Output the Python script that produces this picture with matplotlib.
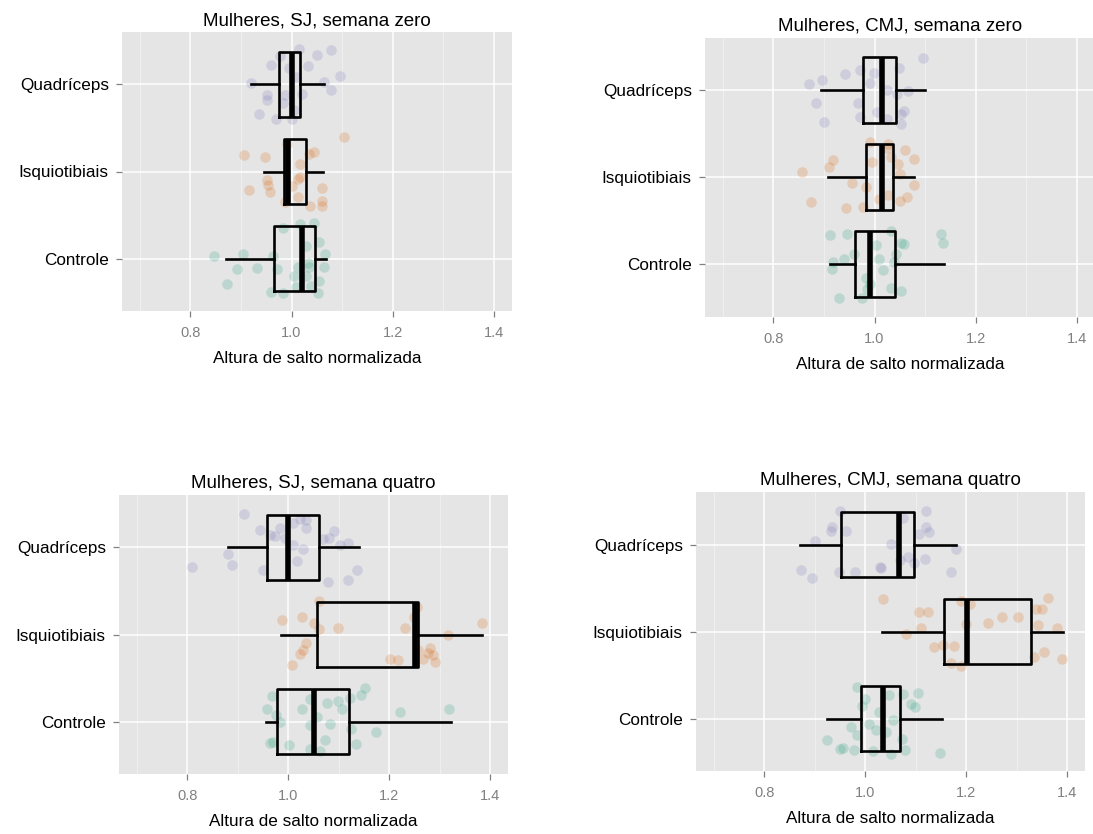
import matplotlib.pyplot as plt

plt.rcParams['font.family'] = ['Liberation Sans', 'DejaVu Sans']

groups = ['Controle', 'Isquiotibiais', 'Quadríceps']
group_colors = ['#1B9E77', '#D95F02', '#7570B3']
x_ticks = [0.8, 1.0, 1.2, 1.4]
x_minor = [0.7, 0.9, 1.1, 1.3]

# SJ, semana zero
sj0_ctrl = [0.847, 0.905, 0.964, 0.892, 0.931, 0.873, 0.960, 0.984, 1.017, 1.045, 1.028, 1.055, 1.066,
            1.065, 1.035, 1.032, 1.012, 1.005, 1.028, 1.055, 1.038, 1.009, 1.053, 0.972, 0.984]
sj0_ctrl_jit = [0.03, 0.05, 0.03, -0.12, -0.11, -0.29, -0.38, 0.35, 0.40, 0.41, 0.15, 0.19, 0.05,
                -0.10, -0.09, -0.05, -0.10, -0.20, -0.20, -0.26, -0.31, -0.32, -0.39, -0.12, -0.39]
sj0_isq = [1.103, 0.906, 0.948, 0.992, 1.044, 1.035, 1.017, 1.017, 1.012, 0.951, 0.954, 0.958, 0.915,
           1.061, 1.000, 1.012, 0.987, 1.037, 1.061, 1.061]
sj0_isq_jit = [0.40, 0.19, 0.17, 0.32, 0.22, 0.20, 0.09, -0.06, -0.09, -0.10, -0.15, -0.23, -0.21,
               -0.19, -0.17, -0.29, -0.35, -0.39, -0.34, -0.39]
sj0_quad = [1.014, 1.050, 1.078, 0.960, 0.978, 1.032, 1.096, 1.065, 1.078, 1.021, 0.951, 0.951, 0.984,
            0.935, 0.969, 1.000, 0.919, 0.995, 0.988, 1.005, 1.009]
sj0_quad_jit = [0.40, 0.34, 0.39, 0.22, 0.32, 0.21, 0.10, 0.03, -0.06, -0.11, -0.12, -0.18, -0.21,
                -0.34, -0.40, -0.40, 0.02, 0.19, -0.12, -0.29, 0.08]
sj0_whislo = [0.871, 0.946, 0.919]
sj0_q1 = [0.966, 0.986, 0.976]
sj0_med = [1.020, 0.993, 1.000]
sj0_q3 = [1.046, 1.028, 1.017]
sj0_whishi = [1.069, 1.063, 1.065]

# CMJ, semana zero
cmj0_ctrl = [0.913, 0.946, 1.032, 1.052, 1.058, 1.131, 1.136, 0.959, 0.939, 0.918, 0.916, 1.002, 1.009,
             1.017, 1.042, 1.038, 0.984, 0.986, 0.929, 0.976, 1.052, 1.032, 0.992]
cmj0_ctrl_jit = [0.34, 0.35, 0.38, 0.24, 0.23, 0.35, 0.24, 0.12, 0.06, 0.03, -0.06, 0.22, 0.06,
                 -0.07, 0.12, 0.02, -0.16, -0.29, -0.39, -0.39, -0.31, -0.27, -0.23]
cmj0_isq = [0.857, 0.875, 0.910, 0.918, 0.943, 0.956, 0.984, 0.977, 0.992, 0.995, 1.026, 1.032, 1.024,
            1.046, 1.050, 1.061, 1.078, 1.078, 1.065, 1.050, 1.026, 1.009]
cmj0_isq_jit = [0.06, -0.29, 0.12, 0.20, -0.36, -0.07, -0.12, -0.34, 0.40, 0.17, 0.38, 0.23, 0.33,
                0.15, 0.04, 0.31, 0.21, -0.09, -0.23, -0.28, -0.21, -0.25]
cmj0_quad = [1.096, 0.871, 0.896, 0.941, 0.972, 0.999, 0.992, 1.048, 1.066, 1.045, 0.885, 0.967, 1.025,
             1.059, 1.052, 1.004, 0.901, 0.972, 1.025, 1.053]
cmj0_quad_jit = [0.37, 0.07, 0.11, 0.18, 0.23, 0.19, 0.08, 0.25, -0.01, -0.05, -0.15, -0.15, 0.00,
                 -0.24, -0.28, -0.25, -0.37, -0.31, -0.33, -0.39]
cmj0_whislo = [0.912, 0.908, 0.894]
cmj0_q1 = [0.962, 0.984, 0.978]
cmj0_med = [0.991, 1.014, 1.014]
cmj0_q3 = [1.040, 1.037, 1.042]
cmj0_whishi = [1.137, 1.079, 1.099]

# SJ, semana quatro
sj4_ctrl = [1.152, 1.145, 1.122, 1.099, 1.076, 1.043, 0.967, 0.957, 0.976, 0.984, 1.028, 1.107, 1.083,
            1.043, 1.056, 1.125, 1.174, 1.222, 1.319, 1.073, 1.002, 0.964, 0.970, 1.043, 1.063, 1.135]
sj4_ctrl_jit = [0.39, 0.31, 0.27, 0.24, 0.22, 0.26, 0.29, 0.15, 0.08, 0.00, 0.15, 0.15, -0.03,
                -0.04, 0.05, -0.08, -0.12, 0.11, 0.15, -0.21, -0.27, -0.25, -0.23, -0.31, -0.34, -0.26]
sj4_isq = [0.987, 1.028, 1.051, 1.061, 1.061, 1.099, 1.036, 1.030, 1.023, 1.007, 1.231, 1.254, 1.248,
           1.383, 1.317, 1.281, 1.277, 1.287, 1.201, 1.218, 1.267, 1.290, 1.257]
sj4_isq_jit = [0.17, 0.20, 0.13, 0.38, 0.06, 0.08, -0.10, -0.18, -0.22, -0.35, 0.07, 0.32, 0.20,
               0.13, -0.01, -0.15, -0.21, -0.23, -0.28, -0.29, -0.28, -0.31, -0.18]
sj4_quad = [0.912, 0.944, 0.964, 0.974, 0.984, 1.009, 1.023, 1.036, 1.036, 1.081, 1.069, 1.090, 1.102,
            1.119, 1.030, 1.010, 0.881, 0.888, 0.809, 0.951, 1.017, 1.079, 1.119, 1.137, 0.993]
sj4_quad_jit = [0.38, 0.20, 0.14, 0.13, 0.22, 0.28, 0.32, 0.31, 0.22, 0.11, 0.09, 0.19, 0.03,
                0.05, -0.02, 0.03, -0.08, -0.20, -0.23, -0.26, -0.16, -0.40, -0.37, -0.26, 0.11]
sj4_whislo = [0.955, 0.985, 0.880]
sj4_q1 = [0.977, 1.056, 0.958]
sj4_med = [1.050, 1.251, 1.000]
sj4_q3 = [1.121, 1.257, 1.061]
sj4_whishi = [1.322, 1.384, 1.140]

# CMJ, semana quatro
cmj4_ctrl = [0.983, 1.000, 0.993, 1.048, 1.074, 1.104, 1.091, 1.099, 1.027, 1.054, 1.008, 1.021, 0.972,
             0.983, 0.925, 0.950, 0.956, 0.978, 1.015, 1.051, 1.078, 1.073, 1.148, 1.041]
cmj4_ctrl_jit = [0.36, 0.23, 0.15, 0.27, 0.28, 0.29, 0.17, 0.13, 0.08, -0.02, -0.06, -0.13, -0.10,
                 -0.19, -0.24, -0.35, -0.34, -0.36, -0.37, -0.41, -0.36, -0.23, -0.39, -0.15]
cmj4_isq = [1.036, 1.107, 1.124, 1.111, 1.080, 1.137, 1.154, 1.175, 1.190, 1.200, 1.243, 1.270, 1.303,
            1.338, 1.349, 1.361, 1.342, 1.379, 1.389, 1.354, 1.334, 1.190, 1.170, 1.207]
cmj4_isq_jit = [0.37, 0.22, 0.22, 0.04, -0.03, -0.18, -0.15, -0.16, 0.35, 0.09, 0.10, 0.17, 0.17,
                0.26, 0.26, 0.39, 0.08, 0.04, -0.31, -0.23, -0.29, -0.40, -0.36, 0.32]
cmj4_quad = [0.950, 1.121, 0.935, 0.932, 0.962, 0.901, 1.074, 1.121, 1.127, 1.107, 1.051, 1.179, 1.084,
             1.097, 1.119, 1.068, 1.030, 1.031, 0.872, 0.895, 0.948, 0.980, 1.170]
cmj4_quad_jit = [0.39, 0.39, 0.20, 0.16, 0.15, 0.04, 0.30, 0.20, 0.14, 0.12, 0.01, -0.05, -0.14,
                 -0.21, -0.17, -0.18, -0.26, -0.27, -0.29, -0.38, -0.31, -0.32, -0.32]
cmj4_whislo = [0.924, 1.033, 0.870]
cmj4_q1 = [0.991, 1.156, 0.952]
cmj4_med = [1.036, 1.201, 1.066]
cmj4_q3 = [1.069, 1.329, 1.097]
cmj4_whishi = [1.152, 1.391, 1.179]

panels = [
    ('Mulheres, SJ, semana zero',
     [sj0_ctrl, sj0_isq, sj0_quad], [sj0_ctrl_jit, sj0_isq_jit, sj0_quad_jit],
     [sj0_whislo, sj0_q1, sj0_med, sj0_q3, sj0_whishi]),
    ('Mulheres, CMJ, semana zero',
     [cmj0_ctrl, cmj0_isq, cmj0_quad], [cmj0_ctrl_jit, cmj0_isq_jit, cmj0_quad_jit],
     [cmj0_whislo, cmj0_q1, cmj0_med, cmj0_q3, cmj0_whishi]),
    ('Mulheres, SJ, semana quatro',
     [sj4_ctrl, sj4_isq, sj4_quad], [sj4_ctrl_jit, sj4_isq_jit, sj4_quad_jit],
     [sj4_whislo, sj4_q1, sj4_med, sj4_q3, sj4_whishi]),
    ('Mulheres, CMJ, semana quatro',
     [cmj4_ctrl, cmj4_isq, cmj4_quad], [cmj4_ctrl_jit, cmj4_isq_jit, cmj4_quad_jit],
     [cmj4_whislo, cmj4_q1, cmj4_med, cmj4_q3, cmj4_whishi]),
]

# panel rectangles in pixels: left, top, right, bottom
W, H = 1093, 834
boxes_px = [(122, 32, 511.7, 311), (705, 37.5, 1094.6, 316.5),
            (119, 495, 508, 774), (696, 492.3, 1085, 771)]

fig = plt.figure(figsize=(W / 100, H / 100), dpi=100)
line_kw = dict(color='black', linewidth=1.9)

for (title, xs, jits, stats), (l, t, r, b) in zip(panels, boxes_px):
    ax = fig.add_axes([l / W, 1 - b / H, (r - l) / W, (b - t) / H])
    ax.set_facecolor('#E5E5E5')
    for s in ax.spines.values():
        s.set_visible(False)

    for i in range(3):
        ax.scatter(xs[i], [i + 1 + j for j in jits[i]], s=58, color=group_colors[i],
                   alpha=0.2, linewidths=0, zorder=2)

    bstats = []
    for i in range(3):
        bstats.append(dict(whislo=stats[0][i], q1=stats[1][i], med=stats[2][i],
                           q3=stats[3][i], whishi=stats[4][i], fliers=[]))
    ax.bxp(bstats, positions=[1, 2, 3], widths=0.75, orientation='horizontal',
           showfliers=False, showcaps=False,
           boxprops=line_kw, whiskerprops=line_kw,
           medianprops=dict(color='black', linewidth=4.0, solid_capstyle='butt'),
           zorder=3)

    ax.set_xlim(0.665, 1.435)
    ax.set_ylim(0.4, 3.6)
    ax.set_xticks(x_ticks)
    ax.set_xticklabels(['%.1f' % v for v in x_ticks])
    ax.set_xticks(x_minor, minor=True)
    ax.set_yticks([1, 2, 3])
    ax.set_yticklabels(groups)

    ax.set_axisbelow(True)
    ax.grid(which='major', color='white', linewidth=1.1)
    ax.grid(which='minor', axis='x', color='#F2F2F2', linewidth=0.6)

    ax.tick_params(axis='x', which='major', length=4.5, width=0.9, color='#808080',
                   labelcolor='#808080', labelsize=10.5, pad=6.5)
    ax.tick_params(axis='x', which='minor', length=0)
    ax.tick_params(axis='y', length=4.5, width=0.9, color='#808080',
                   labelcolor='black', labelsize=12.3, pad=5)

    ax.set_title(title, fontsize=13.5, pad=5)
    ax.set_xlabel('Altura de salto normalizada', fontsize=12.3, labelpad=8)

fig.savefig('out.png', dpi=100)
